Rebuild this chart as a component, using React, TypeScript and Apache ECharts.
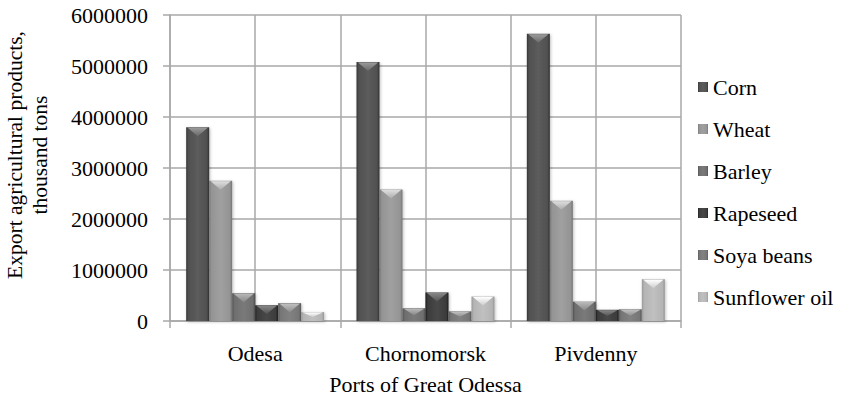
import React, { useEffect, useRef } from "react";
import * as echarts from "echarts";

const categories = ["Odesa", "Chornomorsk", "Pivdenny"];
const seriesNames = ["Corn", "Wheat", "Barley", "Rapeseed", "Soya beans", "Sunflower oil"];
const corn = [3800000, 5080000, 5630000];
const wheat = [2750000, 2580000, 2360000];
const barley = [545000, 250000, 380000];
const rapeseed = [310000, 560000, 220000];
const soya = [350000, 190000, 230000];
const sunflower = [175000, 480000, 820000];
const yTicks = [0, 1000000, 2000000, 3000000, 4000000, 5000000, 6000000];

const seriesValues = [corn, wheat, barley, rapeseed, soya, sunflower];
const baseGray = [0x50, 0x94, 0x6e, 0x3c, 0x76, 0xb4];

function hex(v: number) {
  const c = Math.max(0, Math.min(255, Math.round(v)));
  const h = c.toString(16).padStart(2, "0");
  return "#" + h + h + h;
}

function grad(g: number) {
  return new echarts.graphic.LinearGradient(0, 0, 1, 0, [
    { offset: 0, color: hex(g - 28) },
    { offset: 0.1, color: hex(g) },
    { offset: 0.5, color: hex(g + 12) },
    { offset: 0.9, color: hex(g) },
    { offset: 1, color: hex(g - 32) },
  ]);
}

const FONT = "Liberation Serif";
const CAT_GAP = 0.19;

export default function App() {
  const ref = useRef<HTMLDivElement>(null);
  useEffect(() => {
    if (!ref.current) return;
    const chart = echarts.init(ref.current, null, { renderer: "svg" });
    const gridColor = "#a8a8a8";
    const txt = { fontFamily: FONT, fontSize: 22, color: "#000" };

    const bevelData: number[][] = [];
    seriesValues.forEach((vals, s) => {
      vals.forEach((v, c) => bevelData.push([c, v, s]));
    });

    const barSeries = seriesNames.map((name, i) => ({
      name,
      type: "bar",
      xAxisIndex: 0,
      data: seriesValues[i],
      barGap: "0%",
      barCategoryGap: CAT_GAP * 100 + "%",
      itemStyle: {
        color: grad(baseGray[i]),
        shadowColor: "rgba(0,0,0,0.25)",
        shadowBlur: 3,
        shadowOffsetX: 1,
        shadowOffsetY: 1,
      },
      emphasis: { disabled: true },
    }));

    const bevel = {
      name: "bevel",
      type: "custom",
      xAxisIndex: 0,
      z: 5,
      silent: true,
      data: bevelData,
      renderItem: (params: any, api: any) => {
        const cat = api.value(0);
        const val = api.value(1);
        const s = api.value(2);
        const base = api.coord([cat, 0]);
        const top = api.coord([cat, val]);
        const cw = api.size([1, 0])[0];
        const group = cw * (1 - CAT_GAP);
        const bw = group / 6;
        const x0 = base[0] - group / 2 + s * bw;
        const x1 = x0 + bw;
        const bh = base[1] - top[1];
        const h = Math.min(9, bh * 0.55);
        const g = baseGray[s];
        return {
          type: "polygon",
          shape: {
            points: [
              [x0 + 1.5, top[1] + 0.5],
              [x1 - 1.5, top[1] + 0.5],
              [x0 + bw / 2, top[1] + h],
            ],
          },
          style: {
            fill: new echarts.graphic.LinearGradient(0, 0, 0, 1, [
              { offset: 0, color: hex(g + 75) },
              { offset: 1, color: hex(g + 25) },
            ]),
          },
        };
      },
    };

    chart.setOption({
      animation: false,
      backgroundColor: "#ffffff",
      textStyle: { fontFamily: FONT },
      grid: { left: 170, right: 173, top: 15, bottom: 77, containLabel: false },
      legend: {
        orient: "vertical",
        left: 693,
        top: 71,
        itemWidth: 10,
        itemHeight: 10,
        itemGap: 20,
        icon: "rect",
        data: seriesNames,
        textStyle: { ...txt, padding: [0, 0, 0, 0] },
      },
      xAxis: [
        {
          type: "category",
          data: categories,
          axisLine: { lineStyle: { color: gridColor, width: 1.5 } },
          axisTick: { show: true, length: 7, lineStyle: { color: gridColor, width: 1.5 } },
          axisLabel: { ...txt, margin: 21 },
          splitLine: { show: false },
          name: "Ports of Great Odessa",
          nameLocation: "middle",
          nameGap: 52,
          nameTextStyle: { ...txt },
        },
        {
          type: "category",
          data: ["a", "b", "c", "d", "e", "f"],
          position: "bottom",
          axisLine: { show: false },
          axisTick: { show: false },
          axisLabel: { show: false },
          splitLine: { show: true, lineStyle: { color: gridColor, width: 1.5 } },
        },
      ],
      yAxis: {
        type: "value",
        min: yTicks[0],
        max: yTicks[yTicks.length - 1],
        interval: 1000000,
        axisLine: { show: true, lineStyle: { color: gridColor, width: 1.5 } },
        axisTick: { show: true, length: 7, lineStyle: { color: gridColor, width: 1.5 } },
        axisLabel: { ...txt, margin: 22, formatter: (v: number) => String(v) },
        splitLine: { show: true, lineStyle: { color: gridColor, width: 1.5 } },
      },
      graphic: [
        {
          type: "text",
          x: 27,
          y: 155,
          rotation: Math.PI / 2,
          style: {
            text: "Export agricultural products,\nthousand tons",
            fontFamily: FONT,
            fontSize: 21.5,
            lineHeight: 25,
            fill: "#000",
            align: "center",
            verticalAlign: "middle",
          },
        },
      ],
      series: [...barSeries, bevel],
    });
    return () => chart.dispose();
  }, []);
  return (
    <div
      ref={ref}
      style={{ position: "fixed", left: 0, top: 0, width: 854, height: 400 }}
    />
  );
}
